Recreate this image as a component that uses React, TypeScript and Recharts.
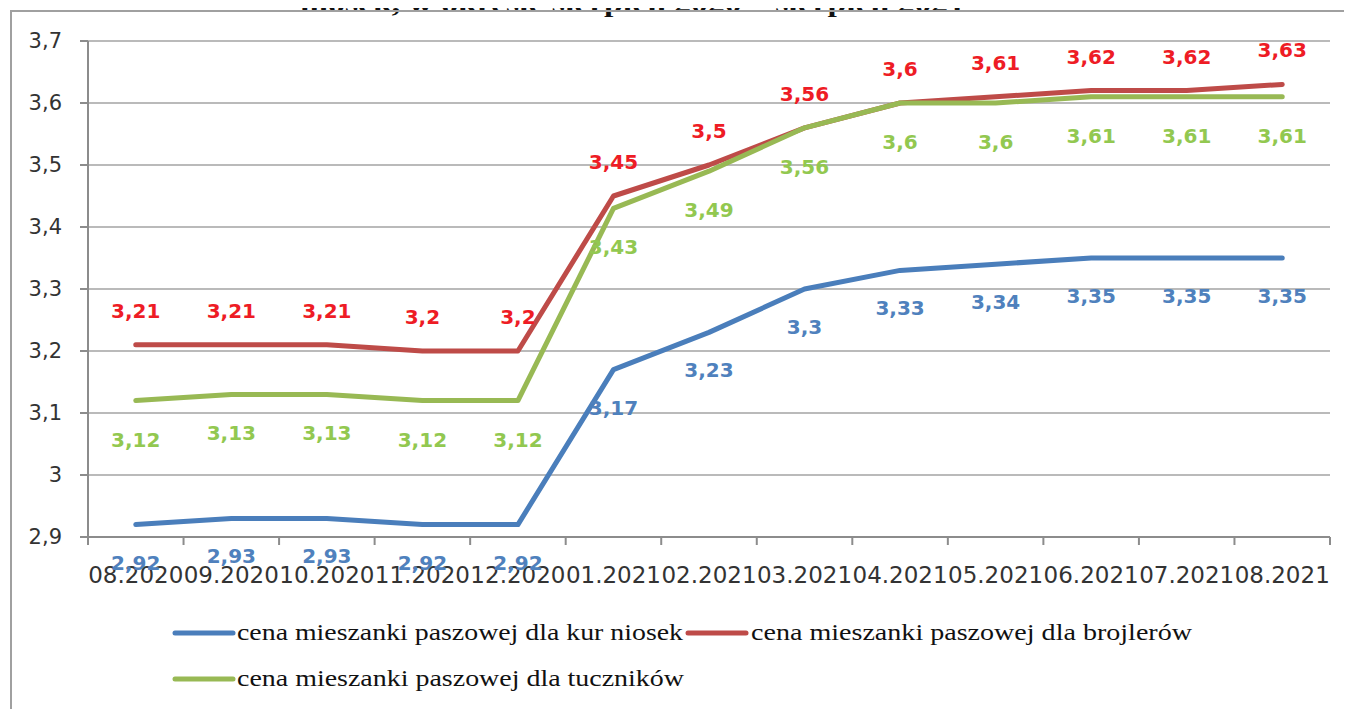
import React from 'react';
import { LineChart, Line, XAxis, YAxis, CartesianGrid, LabelList } from 'recharts';

const months = ['08.2020', '09.2020', '10.2020', '11.2020', '12.2020', '01.2021', '02.2021', '03.2021', '04.2021', '05.2021', '06.2021', '07.2021', '08.2021'];
const kurNiosek = [2.92, 2.93, 2.93, 2.92, 2.92, 3.17, 3.23, 3.3, 3.33, 3.34, 3.35, 3.35, 3.35];
const brojlery = [3.21, 3.21, 3.21, 3.2, 3.2, 3.45, 3.5, 3.56, 3.6, 3.61, 3.62, 3.62, 3.63];
const tuczniki = [3.12, 3.13, 3.13, 3.12, 3.12, 3.43, 3.49, 3.56, 3.6, 3.6, 3.61, 3.61, 3.61];
const yTicks = [2.9, 3.0, 3.1, 3.2, 3.3, 3.4, 3.5, 3.6, 3.7];
const xPositions = months.map((_, i) => i);
const xEdges = [...months.map((_, i) => i - 0.5), months.length - 0.5];

const titleText = 'niosek, w okresie sierpień 2020 – sierpień 2021';

const series = [
  { key: 'kur', name: 'cena mieszanki paszowej dla kur niosek', color: '#4a7ebb', labelColor: '#4f81bd', offset: 38 },
  { key: 'broj', name: 'cena mieszanki paszowej dla brojlerów', color: '#be4b48', labelColor: '#ee1c25', offset: -34 },
  { key: 'tucz', name: 'cena mieszanki paszowej dla tuczników', color: '#98b954', labelColor: '#92c850', offset: 39 },
];

const data = months.map((m, i) => ({
  x: i,
  month: m,
  kur: kurNiosek[i],
  broj: brojlery[i],
  tucz: tuczniki[i],
}));

const fmt = (v: number) => String(Number(v.toFixed(2))).replace('.', ',');

const XTick = (props: any) => {
  const { x, y, payload } = props;
  const v = payload.value as number;
  if (Math.abs(v - Math.round(v)) > 0.1) {
    return <line x1={x} x2={x} y1={y} y2={y + 8} stroke="#8c8c8c" strokeWidth={2} />;
  }
  return (
    <text x={x} y={y + 46} textAnchor="middle" fontFamily="DejaVu Sans" fontSize={23} fill="#333">
      {months[Math.round(v)]}
    </text>
  );
};

const makeLabel = (color: string, offset: number) => (p: any) => {
  if (p.x == null || p.y == null) return null;
  return (
    <text
      x={p.x}
      y={p.y + offset + 7}
      textAnchor="middle"
      fontFamily="DejaVu Sans"
      fontWeight="bold"
      fontSize={20}
      fill={color}
    >
      {fmt(p.value)}
    </text>
  );
};

const legendRows = [
  [{ s: series[0], lx: 175, tx: 237, tl: 446 }, { s: series[1], lx: 688, tx: 751, tl: 441 }],
  [{ s: series[2], lx: 175, tx: 237, tl: 447 }],
];

export default function App() {
  return (
    <div style={{ position: 'relative', width: 1352, height: 709, margin: '-8px 0 0 -8px', background: '#fff', overflow: 'hidden' }}>
      <LineChart width={1352} height={709} data={data} margin={{ top: 41, right: 22, bottom: 142, left: 28 }}>
        <CartesianGrid vertical={false} stroke="#a3a3a3" strokeWidth={1.5} />
        <XAxis
          dataKey="x"
          type="number"
          domain={[-0.5, months.length - 0.5]}
          ticks={[...xEdges, ...xPositions].sort((a, b) => a - b)}
          interval={0}
          height={30}
          tickSize={0}
          tickMargin={0}
          tickLine={false}
          axisLine={{ stroke: '#8c8c8c', strokeWidth: 2 }}
          tick={<XTick />}
          allowDecimals
        />
        <YAxis
          type="number"
          domain={[2.9, 3.7]}
          ticks={yTicks}
          interval={0}
          width={60}
          tickSize={8}
          tickMargin={18}
          tickLine={{ stroke: '#8c8c8c', strokeWidth: 2 }}
          axisLine={{ stroke: '#8c8c8c', strokeWidth: 2 }}
          tick={{ fontFamily: 'DejaVu Sans', fontSize: 21, fill: '#333' }}
          tickFormatter={(v: number) => fmt(v)}
        />
        {series.map((s) => (
          <Line
            key={s.key}
            type="linear"
            dataKey={s.key}
            name={s.name}
            stroke={s.color}
            strokeWidth={5}
            strokeLinejoin="round"
            strokeLinecap="round"
            dot={false}
            activeDot={false}
            isAnimationActive={false}
          >
            <LabelList dataKey={s.key} content={makeLabel(s.labelColor, s.offset)} />
          </Line>
        ))}
      </LineChart>
      <svg width={1352} height={709} style={{ position: 'absolute', left: 0, top: 0, pointerEvents: 'none' }}>
        <text x={300} y={12} textLength={665} lengthAdjust="spacingAndGlyphs" fontFamily="Liberation Serif" fontWeight="bold" fontSize={26} fill="#111">
          {titleText}
        </text>
        <line x1={10} x2={1352} y1={11} y2={11} stroke="#a0a0a0" strokeWidth={2} />
        <line x1={11} x2={11} y1={10} y2={709} stroke="#a0a0a0" strokeWidth={2} />
        {legendRows.map((row, ri) =>
          row.map((it) => {
            const cy = 633 + ri * 46;
            return (
              <g key={it.s.key}>
                <line x1={it.lx} x2={it.lx + 58} y1={cy} y2={cy} stroke={it.s.color} strokeWidth={5} strokeLinecap="round" />
                <text x={it.tx} y={cy + 7} textLength={it.tl} lengthAdjust="spacingAndGlyphs" fontFamily="Liberation Serif" fontSize={23} fill="#111">
                  {it.s.name}
                </text>
              </g>
            );
          })
        )}
      </svg>
    </div>
  );
}
